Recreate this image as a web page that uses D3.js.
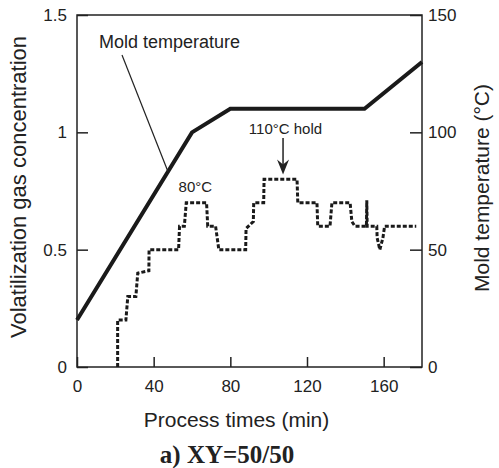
<!DOCTYPE html>
<html>
<head>
<meta charset="utf-8">
<script src="https://cdn.jsdelivr.net/npm/d3@7"></script>
<style>
  body { margin: 0; background: #fff; }
  text { font-family: "Liberation Sans", Arial, sans-serif; fill: #222; }
</style>
</head>
<body>
<div class="chart"></div>
<script>
// mold temperature (right axis)
const moldTime = [0, 60, 80, 150, 180];
const moldTemp = [20, 100, 110, 110, 130];

// volatilization gas concentration (left axis), dotted step curve
const gasTime = [21.2, 21.2, 25.5, 26.5, 30.7, 31.7, 37.5, 37.6, 53, 53.5, 56, 57, 67.6, 68.2, 72.3, 74,
  88, 88.2, 92, 92.2, 97.4, 97.6, 114.8, 115.2, 125.2, 125.6, 132, 133, 142.5, 143.4, 145,
  151, 151.2, 151.4, 156.4, 156.6, 158, 159.6, 160.5, 177];
const gasConc = [0, 0.2, 0.2, 0.3, 0.3, 0.4, 0.41, 0.5, 0.5, 0.6, 0.6, 0.7, 0.7, 0.6, 0.6, 0.5,
  0.5, 0.59, 0.62, 0.7, 0.7, 0.8, 0.8, 0.7, 0.7, 0.6, 0.6, 0.7, 0.7, 0.62, 0.6,
  0.6, 0.71, 0.6, 0.6, 0.55, 0.5, 0.55, 0.6, 0.6];

const xTicks = [0, 40, 80, 120, 160];
const leftTicks = [0, 0.5, 1, 1.5];
const rightTicks = [0, 50, 100, 150];

const W = 499, H = 468;
const x = d3.scaleLinear().domain([0, 180]).range([77, 422]);
const yL = d3.scaleLinear().domain([0, 1.5]).range([367, 15]);
const yR = d3.scaleLinear().domain([0, 150]).range([367, 15]);

const svg = d3.select('.chart')
              .append('svg')
              .attr('width', W)
              .attr('height', H);

// axes with inward ticks
svg.append('g')
  .attr('transform', 'translate(0,367)')
  .call(d3.axisBottom(x).tickValues(xTicks).tickSize(-10).tickPadding(13).tickSizeOuter(0))
  .call(g => g.select('.domain').remove())
  .call(g => g.selectAll('text').attr('font-size', 17).attr('font-family', null));

svg.append('g')
  .attr('transform', 'translate(77,0)')
  .call(d3.axisLeft(yL).tickValues(leftTicks).tickFormat(d3.format('')).tickSize(-11).tickPadding(10).tickSizeOuter(0))
  .call(g => g.select('.domain').remove())
  .call(g => g.selectAll('text').attr('font-size', 17).attr('font-family', null));

svg.append('g')
  .attr('transform', 'translate(422,0)')
  .call(d3.axisRight(yR).tickValues(rightTicks).tickSize(-12).tickPadding(6).tickSizeOuter(0))
  .call(g => g.select('.domain').remove())
  .call(g => g.selectAll('text').attr('font-size', 17).attr('font-family', null));

svg.selectAll('.tick line').attr('stroke', '#222').attr('stroke-width', 1.5);

// frame
svg.append('rect')
  .attr('x', x(0)).attr('y', yL(1.5))
  .attr('width', x(180) - x(0)).attr('height', yL(0) - yL(1.5))
  .attr('fill', 'none').attr('stroke', '#222').attr('stroke-width', 1.5);

// gas concentration dotted line
const gasLine = d3.line().x(d => x(d[0])).y(d => yL(d[1]));
svg.append('path')
  .datum(gasTime.map((t, i) => [t, gasConc[i]]))
  .attr('d', gasLine)
  .attr('fill', 'none')
  .attr('stroke', '#1a1a1a')
  .attr('stroke-width', 3)
  .attr('stroke-dasharray', '4,2');

// mold temperature line
const moldLine = d3.line().x(d => x(d[0])).y(d => yR(d[1]));
svg.append('path')
  .datum(moldTime.map((t, i) => [t, moldTemp[i]]))
  .attr('d', moldLine)
  .attr('fill', 'none')
  .attr('stroke', '#1a1a1a')
  .attr('stroke-width', 4)
  .attr('stroke-linejoin', 'miter');

// annotations
svg.append('text').attr('x', 99).attr('y', 48).attr('font-size', 18).text('Mold temperature');
svg.append('line')
  .attr('x1', 122).attr('y1', 55)
  .attr('x2', x(47.6)).attr('y2', yR(83))
  .attr('stroke', '#222').attr('stroke-width', 1.2);

svg.append('text').attr('x', x(53)).attr('y', 192).attr('font-size', 15).text('80°C');

svg.append('text').attr('x', 285.5).attr('y', 133.5).attr('font-size', 15)
  .attr('text-anchor', 'middle').text('110°C hold');
const ax = x(107.5), tipY = yL(0.82);
svg.append('line')
  .attr('x1', ax).attr('y1', 138).attr('x2', ax).attr('y2', tipY - 8)
  .attr('stroke', '#222').attr('stroke-width', 1.5);
svg.append('path')
  .attr('d', `M${ax},${tipY} L${ax - 6},${tipY - 15} L${ax},${tipY - 10} L${ax + 6},${tipY - 15} Z`)
  .attr('fill', '#222');

// axis titles
svg.append('text')
  .attr('transform', 'translate(26,187) rotate(-90)')
  .attr('text-anchor', 'middle').attr('font-size', 22)
  .text('Volatilization gas concentration');
svg.append('text')
  .attr('transform', 'translate(489,188) rotate(-90)')
  .attr('text-anchor', 'middle').attr('font-size', 21)
  .text('Mold temperature (°C)');
svg.append('text')
  .attr('x', 236.5).attr('y', 427)
  .attr('text-anchor', 'middle').attr('font-size', 21)
  .text('Process times (min)');
svg.append('text')
  .attr('x', 227).attr('y', 463)
  .attr('text-anchor', 'middle').attr('font-size', 25)
  .attr('font-weight', 'bold')
  .style('font-family', '"Liberation Serif", "Times New Roman", serif')
  .text('a) XY=50/50');
</script>
</body>
</html>
